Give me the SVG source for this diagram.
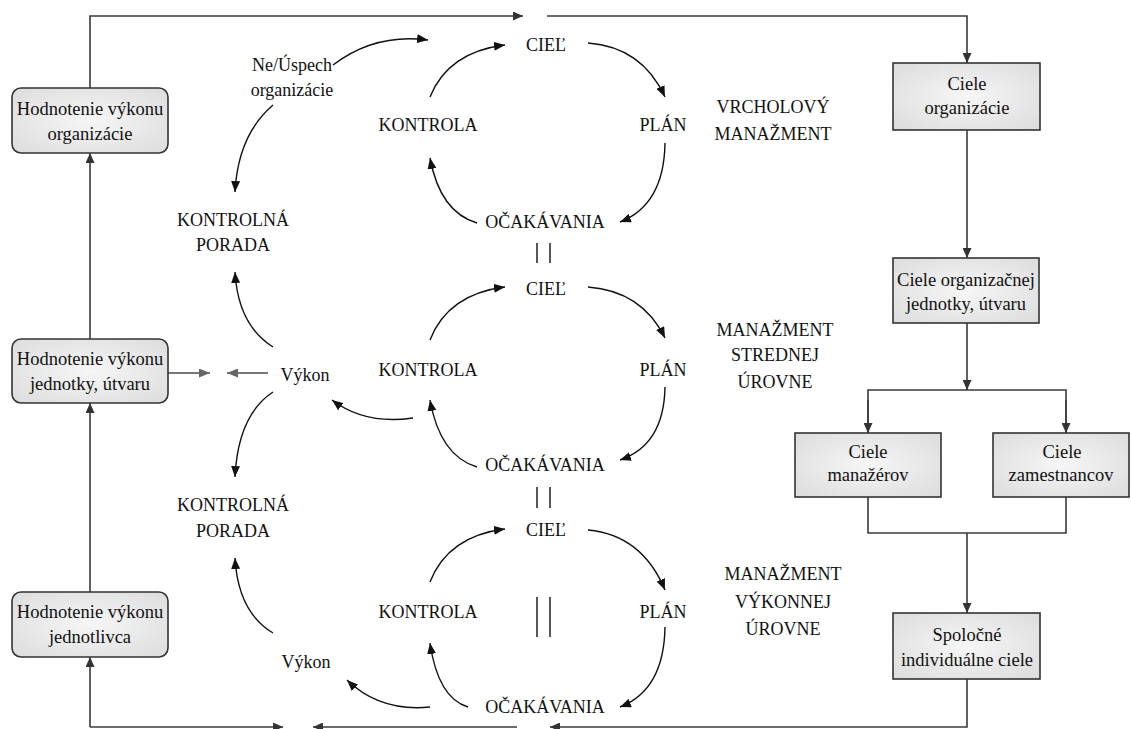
<svg xmlns="http://www.w3.org/2000/svg" width="1131" height="729" viewBox="0 0 1131 729" font-family="Liberation Serif">
<style>
text{font-family:'Liberation Serif',serif;font-size:18px;fill:#111;text-anchor:middle}
.bt{font-size:18.5px}
.c{fill:none;stroke:#111;stroke-width:1.4}
.l{fill:none;stroke:#3a3a3a;stroke-width:1.6}
.g{fill:none;stroke:#777;stroke-width:2}
.box{fill:url(#gr);stroke:#333;stroke-width:1.6}
.sep{stroke:#111;stroke-width:1.4}
</style>
<defs>
<radialGradient id="gr" cx="50%" cy="50%" r="70%">
<stop offset="0" stop-color="#f6f6f6"/><stop offset="1" stop-color="#dcdcdc"/>
</radialGradient>
<marker id="a" markerUnits="userSpaceOnUse" markerWidth="11" markerHeight="9" refX="11" refY="4.5" orient="auto">
<path d="M0,0 L11,4.5 L0,9 z" fill="#111"/>
</marker>
<marker id="ag" markerUnits="userSpaceOnUse" markerWidth="11" markerHeight="9" refX="11" refY="4.5" orient="auto">
<path d="M0,0 L11,4.5 L0,9 z" fill="#666"/>
</marker>
<marker id="al" markerUnits="userSpaceOnUse" markerWidth="10" markerHeight="9" refX="10" refY="4.5" orient="auto">
<path d="M0,0 L10,4.5 L0,9 z" fill="#333"/>
</marker>
</defs>

<g id="connectors">
<path class="l" d="M90,88 V16 H523" marker-end="url(#al)"/>
<path class="l" d="M547,16 H967 V63" marker-end="url(#al)"/>
<path class="l" d="M967,130 V258" marker-end="url(#al)"/>
<path class="l" d="M967,323 V390" marker-end="url(#al)"/>
<path class="l" d="M868,433 V390 H1066 V433"/>
<path class="l" d="M868,400 V433" marker-end="url(#al)"/>
<path class="l" d="M1066,400 V433" marker-end="url(#al)"/>
<path class="l" d="M868,497 V533 H1066 V497"/>
<path class="l" d="M967,533 V613" marker-end="url(#al)"/>
<path class="l" d="M967,679 V727 H550" marker-end="url(#al)"/>
<path class="l" d="M517,727 H313" marker-end="url(#al)"/>
<path class="l" d="M90,727 H283" marker-end="url(#al)"/>
<path class="l" d="M90,727 V657" marker-end="url(#al)"/>
<path class="l" d="M90,592 V403" marker-end="url(#al)"/>
<path class="l" d="M90,339 V153" marker-end="url(#al)"/>
<path class="g" d="M168,373 H210" marker-end="url(#ag)"/>
<path class="g" d="M268,373 H227" marker-end="url(#ag)"/>

<path class="c" d="M333,65 Q375,33 428,40" marker-end="url(#a)"/>
<path class="c" d="M273,105 Q238,135 235,192" marker-end="url(#a)"/>

<path class="c" d="M430,97 Q448,52 505,45" marker-end="url(#a)"/>
<path class="c" d="M588,43 Q642,47 665,97" marker-end="url(#a)"/>
<path class="c" d="M665,143 Q664,205 620,222" marker-end="url(#a)"/>
<path class="c" d="M477,223 Q440,212 430,158" marker-end="url(#a)"/>

<path class="c" d="M273,347 Q238,325 235,272" marker-end="url(#a)"/>
<path class="c" d="M273,392 Q238,415 235,477" marker-end="url(#a)"/>
<path class="c" d="M413,418 Q365,425 332,400" marker-end="url(#a)"/>
<path class="c" d="M430,340 Q448,294 505,287" marker-end="url(#a)"/>
<path class="c" d="M588,287 Q642,291 665,338" marker-end="url(#a)"/>
<path class="c" d="M665,387 Q664,445 620,460" marker-end="url(#a)"/>
<path class="c" d="M477,467 Q440,456 430,400" marker-end="url(#a)"/>

<path class="c" d="M273,633 Q238,612 235,558" marker-end="url(#a)"/>
<path class="c" d="M430,707 Q380,712 347,680" marker-end="url(#a)"/>
<path class="c" d="M430,582 Q448,536 505,529" marker-end="url(#a)"/>
<path class="c" d="M588,530 Q642,535 665,590" marker-end="url(#a)"/>
<path class="c" d="M665,627 Q664,690 620,707" marker-end="url(#a)"/>
<path class="c" d="M468,707 Q438,698 430,643" marker-end="url(#a)"/>

<path class="sep" d="M537,243 V263 M550,243 V263 M537,487 V508 M550,487 V508 M537,597 V637 M550,597 V637"/>
</g>

<g id="n-hod-org"><rect class="box" x="12" y="88" width="156" height="65" rx="9"/><text class="bt" x="90" y="115">Hodnotenie výkonu</text><text class="bt" x="90" y="140">organizácie</text></g>
<g id="n-hod-jed"><rect class="box" x="12" y="339" width="156" height="64" rx="9"/><text class="bt" x="90" y="365">Hodnotenie výkonu</text><text class="bt" x="90" y="390">jednotky, útvaru</text></g>
<g id="n-hod-ind"><rect class="box" x="12" y="592" width="156" height="65" rx="9"/><text class="bt" x="90" y="618">Hodnotenie výkonu</text><text class="bt" x="90" y="643">jednotlivca</text></g>

<g id="n-ciele-org"><rect class="box" x="893" y="63" width="147" height="67"/><text class="bt" x="967" y="90">Ciele</text><text class="bt" x="967" y="114">organizácie</text></g>
<g id="n-ciele-jed"><rect class="box" x="893" y="258" width="146" height="65"/><text class="bt" x="966" y="286">Ciele organizačnej</text><text class="bt" x="966" y="310">jednotky, útvaru</text></g>
<g id="n-ciele-man"><rect class="box" x="795" y="433" width="146" height="64"/><text class="bt" x="868" y="458">Ciele</text><text class="bt" x="868" y="481">manažérov</text></g>
<g id="n-ciele-zam"><rect class="box" x="993" y="433" width="136" height="64"/><text class="bt" x="1062" y="458">Ciele</text><text class="bt" x="1061" y="481">zamestnancov</text></g>
<g id="n-spol"><rect class="box" x="893" y="613" width="147" height="66"/><text class="bt" x="967" y="641">Spoločné</text><text class="bt" x="967" y="666">individuálne ciele</text></g>

<g id="n-neuspech"><text x="292" y="71">Ne/Úspech</text><text x="292" y="96">organizácie</text></g>
<g id="n-kp1"><text x="233" y="226">KONTROLNÁ</text><text x="233" y="251">PORADA</text></g>
<g id="n-vykon1"><text x="305" y="381">Výkon</text></g>
<g id="n-kp2"><text x="233" y="511">KONTROLNÁ</text><text x="233" y="537">PORADA</text></g>
<g id="n-vykon2"><text x="306" y="668">Výkon</text></g>

<g id="n-top">
<text x="546" y="51">CIEĽ</text><text x="428" y="131">KONTROLA</text><text x="663" y="131">PLÁN</text><text x="545" y="228">OČAKÁVANIA</text>
<text x="773" y="113">VRCHOLOVÝ</text><text x="773" y="140">MANAŽMENT</text>
</g>
<g id="n-mid">
<text x="546" y="295">CIEĽ</text><text x="428" y="376">KONTROLA</text><text x="663" y="376">PLÁN</text><text x="545" y="471">OČAKÁVANIA</text>
<text x="775" y="336">MANAŽMENT</text><text x="775" y="361">STREDNEJ</text><text x="775" y="388">ÚROVNE</text>
</g>
<g id="n-bot">
<text x="546" y="536">CIEĽ</text><text x="428" y="618">KONTROLA</text><text x="663" y="618">PLÁN</text><text x="545" y="713">OČAKÁVANIA</text>
<text x="783" y="580">MANAŽMENT</text><text x="783" y="608">VÝKONNEJ</text><text x="783" y="635">ÚROVNE</text>
</g>
</svg>
